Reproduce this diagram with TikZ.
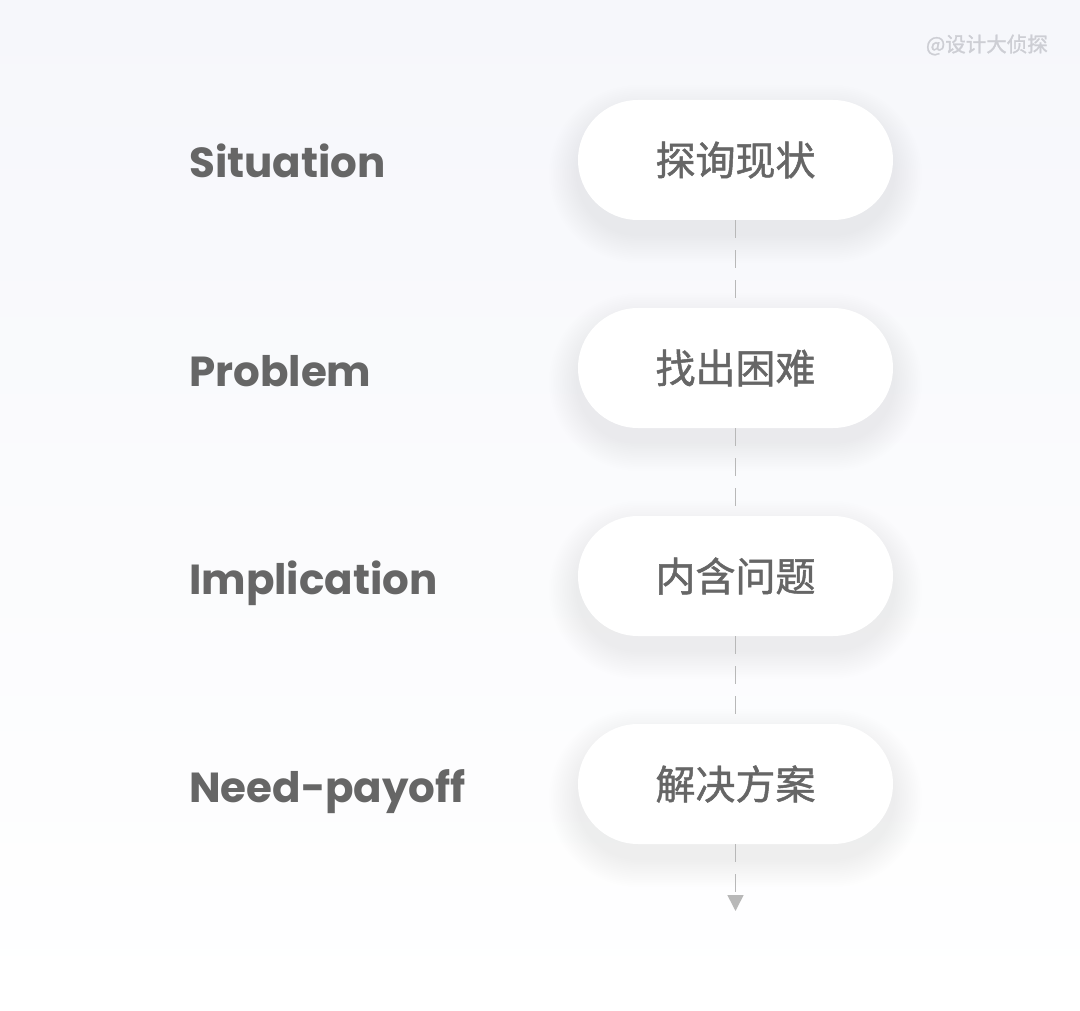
\documentclass[tikz,border=0pt]{standalone}
\usepackage{fontspec}
\setmainfont{Poppins}
\newfontfamily\cjk[FakeBold=1.2]{Noto Sans CJK SC}
\usetikzlibrary{arrows.meta}
\definecolor{txt}{HTML}{666666}
\definecolor{bgtop}{HTML}{F6F7FB}
\definecolor{dashc}{HTML}{B8B8B8}
\definecolor{wm}{HTML}{CDCED4}
\definecolor{shd}{HTML}{A5A8BC}
\tikzset{
  pill/.style={fill=white, rounded corners=60pt, minimum width=315pt, minimum height=120pt,
    inner sep=0pt, font=\cjk\fontsize{40}{42}\selectfont, text=txt},
  lbl/.style={anchor=base west, inner sep=0pt, text=txt, font=\bfseries\fontsize{42}{45}\selectfont},
  link/.style={draw=dashc, line width=1.6pt, dash pattern=on 18pt off 12pt},
}
\newcommand\pillshadow[2]{%
  \foreach \k in {1,...,16}{%
    \fill[shd, opacity=0.0065, rounded corners={60pt+\k*1.8pt}]
      (#1-157.5-\k*1.8, #2+14-60-\k*1.8) rectangle (#1+157.5+\k*1.8, #2+14+60+\k*1.8);
  }%
}
\begin{document}
\begin{tikzpicture}[x=1pt,y=-1pt]
\useasboundingbox (0,0) rectangle (1080,1011);
\fill[top color=bgtop, bottom color=white] (0,0) rectangle (1080,1011);
\node[anchor=east, inner sep=0pt, text=wm, font=\cjk\fontsize{20.5}{22}\selectfont] (wm) at (1048,45) {@设计大侦探};

\pillshadow{735.5}{160}
\pillshadow{735.5}{368}
\pillshadow{735.5}{576}
\pillshadow{735.5}{784}

\node[pill] (p1) at (735.5,160) {探询现状};
\node[pill] (p2) at (735.5,368) {找出困难};
\node[pill] (p3) at (735.5,576) {内含问题};
\node[pill] (p4) at (735.5,784) {解决方案};
\coordinate (end) at (735.5,911);

\node[lbl] (l1) at (189,178) {Situation};
\node[lbl] (l2) at (189,386) {Problem};
\node[lbl] (l3) at (189,594) {Implication};
\node[lbl] (l4) at (189,802) {Need-payoff};

\draw[link] (p1.south) -- (p2.north);
\draw[link] (p2.south) -- (p3.north);
\draw[link] (p3.south) -- (p4.north);
\draw[link, -{Triangle[width=16pt,length=16pt,fill=dashc]}] (p4.south) -- (end);
\end{tikzpicture}
\end{document}
